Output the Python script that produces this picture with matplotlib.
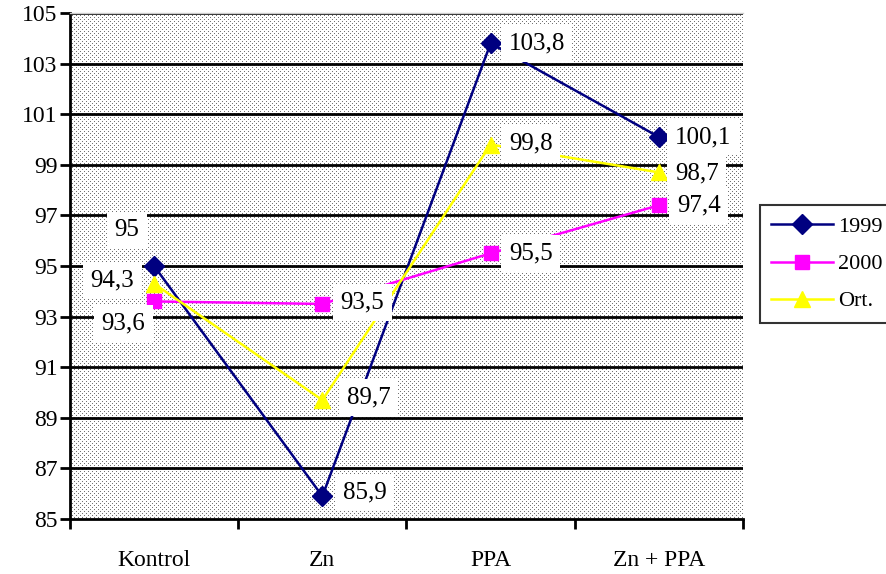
import matplotlib
matplotlib.use("Agg")
import matplotlib.pyplot as plt
import numpy as np
from matplotlib.lines import Line2D

categories = ["Kontrol", "Zn", "PPA", "Zn + PPA"]
y1999 = [95.0, 85.9, 103.8, 100.1]
y2000 = [93.6, 93.5, 95.5, 97.4]
yort = [94.3, 89.7, 99.8, 98.7]
series_names = ["1999", "2000", "Ort."]

plt.rcParams["font.family"] = ["Liberation Serif", "DejaVu Serif"]

W, H = 887, 574
fig = plt.figure(figsize=(W / 100, H / 100), dpi=100)
ax_l, ax_b, ax_w, ax_h = 70, 55, 673, 506
ax = fig.add_axes([ax_l / W, ax_b / H, ax_w / W, ax_h / H])

x = list(range(len(categories)))
ax.set_xlim(-0.5, 3.5)
ax.set_ylim(85, 105)

# fine stipple texture for the plot area
tex = np.ones((ax_h, ax_w))
rows, cols = np.indices(tex.shape)
tex[(rows % 4 == 0) & (cols % 4 == 0)] = 0.45
tex[(rows % 4 == 2) & (cols % 4 == 2)] = 0.45
ax.imshow(tex, extent=(-0.5, 3.5, 85, 105), aspect="auto", cmap="gray",
          vmin=0, vmax=1, interpolation="nearest", zorder=0)

ax.set_yticks(range(85, 106, 2))
ax.set_xticks(x)
ax.set_xticklabels(categories, fontsize=17)
ax.set_xticks([-0.5, 0.5, 1.5, 2.5, 3.5], minor=True)
ax.tick_params(axis="x", which="major", length=0, pad=22)
ax.tick_params(axis="x", which="minor", length=7, width=2, direction="out")
ax.tick_params(axis="y", length=7, width=2, direction="out", labelsize=17, pad=2)

for v in range(87, 106, 2):
    ax.axhline(v, color="black", lw=2, zorder=1)

for s in ["left", "bottom"]:
    ax.spines[s].set_linewidth(2)
ax.spines["right"].set_visible(False)
ax.spines["top"].set_color("#cccccc")
ax.spines["top"].set_linewidth(1)

ax.plot(x, y1999, color="#000080", lw=1.8, marker="D", ms=10, zorder=3)
ax.plot(x, y2000, color="#ff00ff", lw=1.8, marker="s", ms=10, zorder=3)
ax.plot(x, yort, color="#ffff00", lw=1.8, marker="^", ms=11, zorder=3)

box = dict(boxstyle="square,pad=0.3", fc="white", ec="none")

def label(xi, yi, dx, dy):
    txt = f"{yi:g}".replace(".", ",")
    ax.annotate(txt, (xi, yi), xytext=(dx, dy), textcoords="offset pixels",
                ha="center", va="center", fontsize=18, bbox=box, zorder=4)

offsets_1999 = [(-27, 36), (42, 4), (46, 0), (44, 0)]
offsets_2000 = [(-31, -22), (40, 1), (40, 0), (40, 0)]
offsets_ort = [(-42, 3), (46, 3), (40, 1), (38, -1)]
for xi, yi, (dx, dy) in zip(x, y1999, offsets_1999):
    label(xi, yi, dx, dy)
for xi, yi, (dx, dy) in zip(x, y2000, offsets_2000):
    label(xi, yi, dx, dy)
for xi, yi, (dx, dy) in zip(x, yort, offsets_ort):
    label(xi, yi, dx, dy)

handles = [
    Line2D([], [], color="#000080", lw=1.8, marker="D", ms=10),
    Line2D([], [], color="#ff00ff", lw=1.8, marker="s", ms=10),
    Line2D([], [], color="#ffff00", lw=1.8, marker="^", ms=11),
]
leg = fig.legend(handles, series_names, loc="center left",
                 bbox_to_anchor=(760 / W, 1 - 264 / H), fontsize=16,
                 frameon=True, fancybox=False, edgecolor="black",
                 handlelength=2.8, handletextpad=0.2, borderpad=0.5,
                 labelspacing=0.75, borderaxespad=0)
leg.get_frame().set_linewidth(1.5)

fig.savefig("out.png", dpi=100)
